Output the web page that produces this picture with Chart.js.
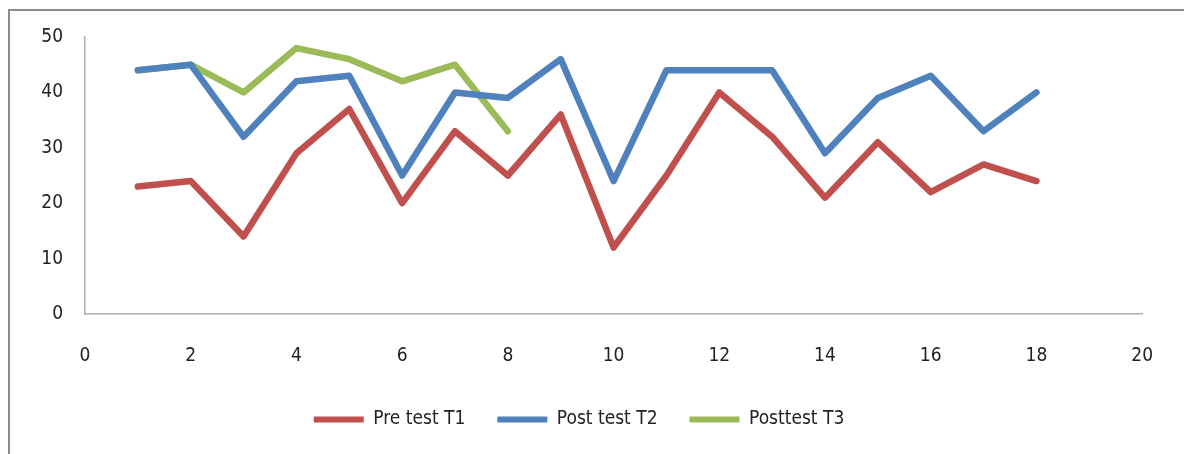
<!DOCTYPE html>
<html>
<head>
<meta charset="utf-8">
<script src="https://cdn.jsdelivr.net/npm/chart.js@4.4.0/dist/chart.umd.min.js"></script>
<style>
    html, body { margin: 0; padding: 0; background: #fff; }
    #wrap { position: relative; width: 1184px; height: 454px; overflow: hidden; }
    #frame { position: absolute; left: 8px; top: 9px; width: 1180px; height: 460px; border: 2px solid #8c8c8c; box-sizing: border-box; }
    #chart { position: absolute; left: 0; top: 0; }
</style>
</head>
<body>
<div id="wrap">
    <div id="frame"></div>
    <canvas id="chart" width="1184" height="454"></canvas>
</div>
<script>
// Student scores
const students = [1, 2, 3, 4, 5, 6, 7, 8, 9, 10, 11, 12, 13, 14, 15, 16, 17, 18];
const preTestT1 = [23, 24, 14, 29, 37, 20, 33, 25, 36, 12, 25, 40, 32, 21, 31, 22, 27, 24];
const postTestT2 = [44, 45, 32, 42, 43, 25, 40, 39, 46, 24, 44, 44, 44, 29, 39, 43, 33, 40];
const postTestT3 = [44, 45, 40, 48, 46, 42, 45, 33];
const seriesNames = ['Pre test T1', 'Post test T2', 'Posttest T3'];

const fontFamily = '"Liberation Sans Narrow", "DejaVu Sans Condensed", "Liberation Sans", sans-serif';

function toPoints(values) {
    return values.map((v, i) => ({ x: students[i], y: v }));
}

function lineSet(label, values, color) {
    return {
        label: label,
        data: toPoints(values),
        borderColor: color,
        backgroundColor: color,
        borderWidth: 6.5,
        pointRadius: 0,
        borderCapStyle: 'round',
        borderJoinStyle: 'round',
        tension: 0
    };
}

const ctx = document.getElementById('chart');
new Chart(ctx, {
    type: 'line',
    data: {
        datasets: [
            lineSet(seriesNames[0], preTestT1, '#c0504d'),
            lineSet(seriesNames[1], postTestT2, '#4f81bd'),
            lineSet(seriesNames[2], postTestT3, '#9bbb59')
        ]
    },
    options: {
        responsive: false,
        animation: false,
        layout: { padding: { left: 0, right: 26, top: 37, bottom: 15 } },
        plugins: {
            tooltip: { enabled: false },
            legend: {
                position: 'bottom',
                labels: {
                    color: '#222',
                    font: { family: fontFamily, size: 19 },
                    boxWidth: 50,
                    boxHeight: 6,
                    padding: 32,
                    generateLabels: function(chart) {
                        const items = Chart.defaults.plugins.legend.labels.generateLabels(chart);
                        items.forEach(item => { item.lineWidth = 0; });
                        return items;
                    }
                }
            }
        },
        scales: {
            x: {
                type: 'linear',
                min: 0,
                max: 20,
                ticks: { stepSize: 2, color: '#222', padding: 31, font: { family: fontFamily, size: 19 } },
                grid: { display: false, drawTicks: false },
                border: { color: '#b0b0b0', width: 1.5 },
                afterFit: function(scale) { scale.height = 64; }
            },
            y: {
                min: 0,
                max: 50,
                ticks: { stepSize: 10, color: '#222', padding: 22, font: { family: fontFamily, size: 19 } },
                grid: { display: false, drawTicks: false },
                border: { color: '#b0b0b0', width: 1.5 },
                afterFit: function(scale) { scale.width = 85; }
            }
        }
    }
});
</script>
</body>
</html>
